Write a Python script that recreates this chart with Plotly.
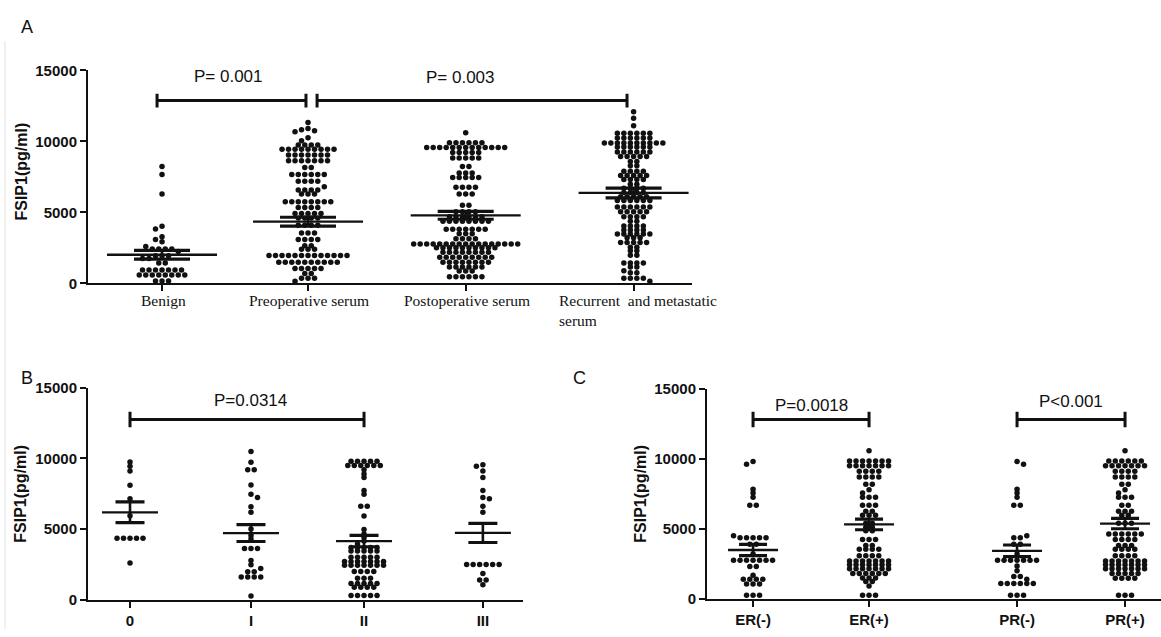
import plotly.graph_objects as go

W, H = 1161, 637

# ---------------- data ----------------
a_labels = ["Benign", "Preoperative serum", "Postoperative serum",
            "Recurrent\u00a0 and metastatic<br>serum"]
a_benign = [8240, 7670, 6300, 4020, 3840, 3290, 3100, 2940, 2600,
            2420, 2420, 2420, 2420, 2250, 1950, 1950, 1950, 1750, 1750,
            1440, 1440, 940, 940, 940, 940, 940, 940, 940,
            600, 600, 600, 600, 600, 600, 600, 600, 170, 170, 170]
a_preop = [11320, 10910, 10820, 10750, 10680, 10250, 10050,
           9750, 9750, 9750, 9750,
           9450, 9450, 9450, 9450, 9450, 9450, 9450, 9450, 9450,
           9040, 9040, 9040, 9040, 9040, 9040, 9040,
           8630, 8630, 8630, 8630, 8630, 8630, 8630, 8170, 8170,
           7670, 7670, 7670, 7670, 7670, 7670, 7190, 7190, 7190, 7190,
           6800, 6580, 6580, 6580, 6580, 6300, 6300, 6300,
           5750, 5750, 5750, 5750, 5750, 5750, 5750, 5750,
           5340, 5340, 5340, 5340, 4930, 4930, 4930, 4930, 4930,
           4600, 4600, 4600, 4600, 4100, 4100, 4100, 4100,
           3560, 3560, 3560, 3100, 3100, 3100, 3100,
           2650, 2650, 2400, 2400, 2400,
           1960, 1960, 1960, 1960, 1960, 1960, 1960, 1960, 1960, 1960, 1960, 1960, 1960,
           1500, 1500, 1500, 1500, 1500, 1500, 1500, 1500, 1500, 1500,
           1050, 1050, 1050, 1050, 1050, 700, 700, 370, 370, 370, 150]
a_postop = [10600, 9900, 9900, 9900, 9900, 9900, 9900,
            9570, 9570, 9570, 9570, 9570, 9570, 9570, 9570, 9570, 9570, 9570, 9570, 9570,
            9220, 9220, 9220, 9220, 9220, 8830, 8830, 8830, 8830, 8830,
            8240, 8240, 7780, 7780, 7780, 7450, 7450, 7450, 7450, 7450,
            6780, 6780, 6780, 6780, 6300, 6300, 6300, 5500, 5500,
            5050, 5050, 5050, 5050, 4700, 4700, 4700, 4700, 4700, 4700,
            4380, 4380, 4380, 4380, 4380, 4380, 4380, 4380,
            3810, 3810, 3810, 3810, 3810, 3810, 3810, 3500, 3500, 3500,
            3150, 3150, 3150, 3150,
            2780, 2780, 2780, 2780, 2780, 2780, 2780, 2780, 2780, 2780, 2780, 2780,
            2780, 2780, 2780, 2780, 2780,
            2520, 2520, 2520, 2520, 2520, 2520, 2520, 2520, 2520, 2520,
            2190, 2190, 2190, 2190, 2190, 2190, 2190, 2190,
            1850, 1850, 1850, 1850, 1850, 1850, 1850, 1850, 1850,
            1490, 1490, 1490, 1490, 1490, 1490, 1490, 1490,
            1160, 1160, 1160, 1160, 1160, 1160, 870, 870, 870,
            480, 480, 480, 480, 480, 480]
a_recurrent = [12080, 11620, 11100,
               10580, 10580, 10580, 10580, 10580, 10580,
               10240, 10240, 10240, 10240, 10240, 10240,
               9880, 9880, 9880, 9880, 9880, 9880, 9880, 9880, 9880, 9880,
               9610, 9610, 9610, 9610, 9610, 9610,
               9250, 9250, 9250, 9250, 9250, 9250, 8930, 8930, 8930, 8930, 8930,
               8580, 8580, 8280, 8280, 7900, 7900, 7900, 7900,
               7600, 7600, 7600, 7600, 7600, 7320, 7320, 7320, 7320, 6990, 6990,
               6700, 6700, 6700, 6700, 6400, 6400, 6400, 6400,
               6100, 6100, 6100, 6100, 6100, 5840, 5840, 5840, 5840, 5840, 5840,
               5390, 5390, 5390, 5390, 5390, 5390, 5050, 5050, 5050, 5050, 5050,
               4700, 4700, 4700, 4700, 4380, 4380, 4050, 4050, 4050, 4050,
               3770, 3770, 3770, 3770, 3490, 3490, 3490, 3490, 3490, 3490,
               3220, 3220, 3220, 2880, 2880, 2880, 2880, 2880,
               2550, 2550, 2300, 2300, 1990, 1990, 1440, 1440, 1440, 1440,
               1160, 1160, 890, 750, 750, 370, 370, 370, 370, 150]
a_mean = [2020, 4350, 4795, 6370]
a_sem = [310, 310, 275, 340]
a_pvalues = ["P= 0.001", "P= 0.003"]

b_labels = ["0", "I", "II", "III"]
b_stage0 = [9750, 9450, 9100, 8100, 7150, 5950, 4350, 4350, 4350, 4350, 4350, 2600]
b_stage1 = [10480, 9720, 9200, 9200, 8120, 7470, 7240, 6580, 6190, 5000, 4550,
            4300, 3630, 3630, 3630, 2780, 2480, 2210, 1980, 1980,
            1610, 1610, 1610, 1610, 260]
b_stage2 = [9800, 9800, 9800, 9800, 9800, 9500, 9500, 9500, 9500, 9500, 9500,
            9200, 8900, 8650, 7720, 7470, 6620, 6620, 5930, 4970, 4650, 4400,
            4150, 3950, 3700, 3700, 3700, 3700, 3700, 3450, 3450, 3450, 3450, 3450,
            3010, 3010, 3010, 3010, 3010,
            2710, 2710, 2710, 2710, 2710, 2710, 2710,
            2440, 2440, 2440, 2440, 2440, 2440, 2440,
            2000, 2000, 2000, 2000, 1520, 1520, 1520,
            1160, 1160, 1160, 1160, 1160, 880, 880, 880, 880,
            300, 300, 300, 300, 300]
b_stage3 = [9550, 9450, 9100, 8640, 7720, 7240, 7150, 6620, 6190,
            2500, 2500, 2500, 2500, 2500, 2500, 1860, 1400, 1400, 1060]
b_mean = [6185, 4715, 4150, 4725]
b_sem = [735, 595, 400, 675]
b_pvalue = "P=0.0314"

c_labels = ["ER(-)", "ER(+)", "PR(-)", "PR(+)"]
c_er_neg = [9790, 9610, 7820, 7550, 7240, 6670, 6670, 4500,
            4350, 4350, 4350, 4350, 4350, 3900, 3900, 3200,
            2750, 2750, 2750, 2750, 2750, 2750, 2750, 2300, 2300, 1690,
            1390, 1390, 1390, 1390, 1060, 1060, 1060, 260, 260, 260]
c_er_pos = [10560, 9840, 9840, 9840, 9840, 9840, 9840, 9840,
            9490, 9490, 9490, 9490, 9490, 9490, 9490,
            9100, 9100, 9100, 9100, 8700, 8700, 8700, 8700, 8170, 8170,
            7780, 7550, 7240, 7240, 7240, 6670, 6670, 6670, 6250, 6250,
            5970, 5970, 5970, 5400, 5400, 5100, 5100, 4850, 4850,
            4240, 4240, 4240, 3800, 3800, 3540, 3540, 3540, 3540,
            3080, 3080, 3080, 3080,
            2700, 2700, 2700, 2700, 2700, 2700, 2700,
            2440, 2440, 2440, 2440, 2440, 2440, 2440,
            2150, 2150, 2150, 2150, 2150, 2150, 2150,
            1810, 1810, 1810, 1810, 1810, 1810, 1480, 1480, 1480,
            1230, 1230, 920, 260, 260, 260]
c_pr_neg = [9790, 9610, 7820, 7550, 7240, 6670, 6670, 4500, 4350, 4350,
            3900, 3900, 3200, 2750, 2750, 2750, 2750, 2750, 2750, 2750,
            2350, 2000, 1600, 1600, 1400, 1100, 1100, 1100, 1100, 1100, 1100,
            260, 260, 260]
c_pr_pos = [10560, 9840, 9840, 9840, 9840, 9840, 9840,
            9490, 9490, 9490, 9490, 9490, 9490, 9490,
            9100, 9100, 9100, 9100, 8700, 8700, 8700, 8700, 8170, 8170,
            7780, 7550, 7240, 7240, 7240, 6670, 6670, 6250, 6250, 6250,
            5970, 5970, 5400, 5400, 5400,
            4630, 4630, 4630, 4630, 4630, 4630, 4240, 4240, 4240, 4240,
            3800, 3800, 3800, 3540, 3540, 3540, 3540, 3080, 3080, 3080, 3080,
            2700, 2700, 2700, 2700, 2700, 2700, 2700,
            2440, 2440, 2440, 2440, 2440, 2440, 2440,
            2150, 2150, 2150, 2150, 2150, 2150, 2150,
            1810, 1810, 1810, 1810, 1810, 1460, 1460, 1460, 1460,
            260, 260, 260]
c_mean = [3485, 5310, 3425, 5370]
c_sem = [405, 380, 415, 370]
c_pvalues = ["P=0.0018", "P<0.001"]

y_tickvals = [0, 5000, 10000, 15000]
y_ticktext = ["0", "5000", "10000", "15000"]

# ---------------- layout constants (pixels of the 1161x637 canvas) ----------------
SANS = "Liberation Sans, Arial, sans-serif"
SERIF = "Liberation Serif, Times New Roman, serif"
INK = "#111111"

panels = [
    dict(name="A", groups=[a_benign, a_preop, a_postop, a_recurrent], mean=a_mean, sem=a_sem,
         pos=[0, 1, 2.08, 3.23], xr=(-0.507, 3.63), xpx=(88, 692), ypx=(282, 63),
         mean_hw=55, cap_hw=28),
    dict(name="B", groups=[b_stage0, b_stage1, b_stage2, b_stage3], mean=b_mean, sem=b_sem,
         pos=[0, 1.025, 1.983, 2.99], xr=(-0.356, 3.33), xpx=(88, 523), ypx=(607, 389),
         mean_hw=28, cap_hw=14.5),
    dict(name="C", groups=[c_er_neg, c_er_pos, c_pr_neg, c_pr_pos], mean=c_mean, sem=c_sem,
         pos=[0, 1, 2.276, 3.207], xr=(-0.397, 3.517), xpx=(707, 1161), ypx=(606, 390),
         mean_hw=25, cap_hw=14),
]


def beeswarm(values, ppu_y, dx=6.5, thr_x=5.6, thr_y=3.5):
    counts = {}
    for v in values:
        counts[v] = counts.get(v, 0) + 1
    order = sorted(counts.items(), key=lambda kv: (-kv[1], -kv[0]))
    placed, xs_out, ys_out = [], [], []
    flip = 1
    for v, n in order:
        y = v * ppu_y
        cands = [0.0]
        for k in range(1, 80):
            cands += [flip * k * dx / 2, -flip * k * dx / 2]
        flip = -flip
        for c in cands:
            xs = [c + (i - (n - 1) / 2) * dx for i in range(n)]
            if all(not (abs(x - px) < thr_x and abs(y - py) < thr_y)
                   for x in xs for px, py in placed):
                break
        for x in xs:
            placed.append((x, y))
            xs_out.append(x)
            ys_out.append(v)
    return xs_out, ys_out


fig = go.Figure()

for k, p in enumerate(panels):
    sfx = "" if k == 0 else str(k + 1)
    xa, ya = "x" + sfx, "y" + sfx
    ppu_x = (p["xpx"][1] - p["xpx"][0]) / (p["xr"][1] - p["xr"][0])
    ppu_y = (p["ypx"][0] - p["ypx"][1]) / 15000.0
    p["ppu_x"], p["ppu_y"] = ppu_x, ppu_y
    for gi, vals in enumerate(p["groups"]):
        offs, ys = beeswarm(vals, ppu_y)
        fig.add_trace(go.Scatter(
            x=[p["pos"][gi] + o / ppu_x for o in offs], y=ys, mode="markers",
            marker=dict(size=5.5, color=INK, line=dict(width=0)),
            xaxis=xa, yaxis=ya, cliponaxis=False, showlegend=False, hoverinfo="y"))
    mx, my, cx, cy, vx, vy = [], [], [], [], [], []
    hw, cw = p["mean_hw"] / ppu_x, p["cap_hw"] / ppu_x
    for gi, (m, s) in enumerate(zip(p["mean"], p["sem"])):
        c = p["pos"][gi]
        mx += [c - hw, c + hw, None]
        my += [m, m, None]
        cx += [c - cw, c + cw, None, c - cw, c + cw, None]
        cy += [m + s, m + s, None, m - s, m - s, None]
        vx += [c, c, None]
        vy += [m - s, m + s, None]
    for X, Y, wdt in [(mx, my, 2.3), (cx, cy, 3.2), (vx, vy, 2.6)]:
        fig.add_trace(go.Scatter(x=X, y=Y, mode="lines", line=dict(color=INK, width=wdt),
                                 xaxis=xa, yaxis=ya, cliponaxis=False,
                                 showlegend=False, hoverinfo="skip"))


# ---------------- significance brackets ----------------
def bracket(xa, ya, x1, x2, yv, half):
    fig.add_trace(go.Scatter(
        x=[x1, x1, None, x1, x2, None, x2, x2],
        y=[yv - half, yv + half, None, yv, yv, None, yv - half, yv + half],
        mode="lines", line=dict(color=INK, width=3), xaxis=xa, yaxis=ya,
        cliponaxis=False, showlegend=False, hoverinfo="skip"))


pa, pb, pc = panels
bracket("x", "y", pa["pos"][0] - 0.034, pa["pos"][1] - 0.014, 12870, 480)
bracket("x", "y", pa["pos"][1] + 0.062, pa["pos"][3] - 0.045, 12870, 480)
bracket("x2", "y2", pb["pos"][0], pb["pos"][2], 12750, 550)
bracket("x3", "y3", pc["pos"][0], pc["pos"][1], 12800, 550)
bracket("x3", "y3", pc["pos"][2], pc["pos"][3], 12800, 550)

ann = []
pfont = dict(family=SANS, size=17, color=INK)
ann.append(dict(x=(228 - 162) / pa["ppu_x"], y=14590, xref="x", yref="y", text=a_pvalues[0],
                showarrow=False, font=pfont, xanchor="center", yanchor="middle"))
ann.append(dict(x=(460 - 162) / pa["ppu_x"], y=14520, xref="x", yref="y", text=a_pvalues[1],
                showarrow=False, font=pfont, xanchor="center", yanchor="middle"))
ann.append(dict(x=(pb["pos"][0] + pb["pos"][2]) / 2 + 0.03, y=14070, xref="x2", yref="y2",
                text=b_pvalue, showarrow=False, font=pfont, xanchor="center", yanchor="middle"))
ann.append(dict(x=(pc["pos"][0] + pc["pos"][1]) / 2, y=13820, xref="x3", yref="y3",
                text=c_pvalues[0], showarrow=False, font=pfont, xanchor="center", yanchor="middle"))
ann.append(dict(x=(pc["pos"][2] + pc["pos"][3]) / 2, y=14100, xref="x3", yref="y3",
                text=c_pvalues[1], showarrow=False, font=pfont, xanchor="center", yanchor="middle"))

# panel A category labels (serif, as annotations so the last one can wrap left-aligned)
for gi, lab in enumerate(a_labels):
    ann.append(dict(x=pa["pos"][gi] + (0.03 if gi == 3 else 0.01), y=1 - 289 / H,
                    xref="x", yref="paper", text=lab, showarrow=False, align="left",
                    font=dict(family=SERIF, size=15.5, color=INK),
                    xanchor="center", yanchor="top"))

# y axis titles
for xpx, ypx in [(22, 167), (21, 498), (641, 498)]:
    ann.append(dict(x=xpx / W, y=1 - ypx / H, xref="paper", yref="paper",
                    text="FSIP1(pg/ml)", textangle=-90, showarrow=False,
                    font=dict(family=SANS, size=16, color=INK, weight="bold"),
                    xanchor="center", yanchor="middle"))

# panel letters
for letter, xpx, ypx in [("A", 27, 19), ("B", 27, 379), ("C", 579, 379)]:
    ann.append(dict(x=xpx / W, y=1 - ypx / H, xref="paper", yref="paper", text=letter,
                    showarrow=False, font=dict(family=SANS, size=18, color=INK),
                    xanchor="center", yanchor="middle"))

tickfont = dict(family=SANS, size=15, color=INK, weight="bold")


def xaxis(p, labels, show_labels):
    return dict(domain=[p["xpx"][0] / W, p["xpx"][1] / W], range=list(p["xr"]),
                tickmode="array", tickvals=p["pos"], ticktext=labels,
                showticklabels=show_labels, ticks="outside", ticklen=6, tickwidth=2,
                tickcolor=INK, showline=True, linecolor=INK, linewidth=2,
                showgrid=False, zeroline=False, tickfont=tickfont, fixedrange=True)


def yaxis(p, anchor):
    return dict(domain=[1 - p["ypx"][0] / H, 1 - p["ypx"][1] / H], range=[0, 15000],
                tickmode="array", tickvals=y_tickvals, ticktext=y_ticktext,
                ticks="outside", ticklen=6, tickwidth=2, tickcolor=INK,
                showline=True, linecolor=INK, linewidth=2, showgrid=False,
                zeroline=False, tickfont=tickfont, anchor=anchor, fixedrange=True)


fig.update_layout(
    width=W, height=H, margin=dict(l=0, r=0, t=0, b=0),
    paper_bgcolor="white", plot_bgcolor="white", showlegend=False,
    xaxis=dict(xaxis(pa, a_labels, False), anchor="y"),
    yaxis=yaxis(pa, "x"),
    xaxis2=dict(xaxis(pb, b_labels, True), anchor="y2"),
    yaxis2=yaxis(pb, "x2"),
    xaxis3=dict(xaxis(pc, c_labels, True), anchor="y3"),
    yaxis3=yaxis(pc, "x3"),
    annotations=ann,
    shapes=[dict(type="line", xref="paper", yref="paper", x0=5 / W, x1=5 / W,
                 y0=0, y1=1 - 33 / H, line=dict(color="#e2e2e2", width=1))],
)

pin_js = ("document.documentElement.style.margin='0';document.body.style.margin='0';"
          "document.body.style.padding='0';document.body.style.overflow='hidden';"
          "var gd=document.getElementById('{plot_id}');gd.style.position='fixed';"
          "gd.style.left='0px';gd.style.top='0px';")

fig.write_html("out.html", post_script=pin_js, config={"displayModeBar": False})
